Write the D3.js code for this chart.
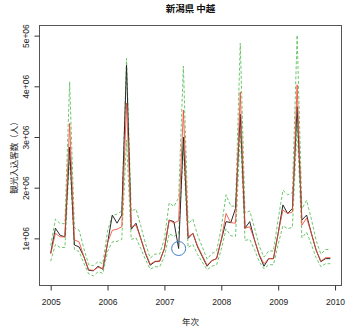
<!DOCTYPE html>
<html>
<head>
<meta charset="utf-8">
<script src="https://cdn.jsdelivr.net/npm/d3@7"></script>
<style>
  body { margin: 0; background: #fff; }
  svg { display: block; font-family: "Liberation Sans", Arial, "Noto Sans CJK JP", sans-serif; }
</style>
</head>
<body>
<svg id="chart" width="346" height="327"></svg>
<script>
// monthly, Jan 2005 .. Dec 2009 (values in persons)
const startYear = 2005;
const actual = [
  0.71, 1.20, 1.06, 1.03, 2.80, 0.87, 0.83, 0.64, 0.37, 0.36, 0.45, 0.39,
  0.90, 1.46, 1.30, 1.46, 4.42, 1.18, 1.30, 1.00, 0.70, 0.47, 0.54, 0.55,
  0.80, 1.36, 1.33, 0.80, 3.00, 1.00, 1.10, 0.83, 0.64, 0.45, 0.56, 0.60,
  0.97, 1.33, 1.31, 1.59, 3.45, 1.20, 1.33, 0.97, 0.67, 0.45, 0.60, 0.60,
  1.10, 1.66, 1.49, 1.59, 3.60, 1.36, 1.46, 1.10, 0.77, 0.54, 0.60, 0.60
];
const fitted = [
  0.69, 1.10, 1.03, 1.03, 3.27, 0.97, 0.93, 0.64, 0.38, 0.37, 0.43, 0.40,
  0.92, 1.16, 1.18, 1.23, 3.67, 1.23, 1.26, 1.00, 0.72, 0.49, 0.55, 0.55,
  0.80, 1.36, 1.30, 1.35, 3.53, 1.03, 1.10, 0.85, 0.66, 0.47, 0.56, 0.60,
  0.97, 1.49, 1.31, 1.30, 3.89, 1.20, 1.23, 0.97, 0.68, 0.50, 0.60, 0.60,
  1.10, 1.56, 1.49, 1.52, 4.03, 1.26, 1.40, 1.10, 0.77, 0.55, 0.62, 0.62
];
const upper = [
  0.86, 1.38, 1.29, 1.29, 4.09, 1.21, 1.16, 0.80, 0.48, 0.46, 0.54, 0.50,
  1.15, 1.45, 1.48, 1.54, 4.55, 1.54, 1.58, 1.25, 0.90, 0.61, 0.69, 0.69,
  1.00, 1.70, 1.63, 1.80, 4.40, 1.29, 1.38, 1.06, 0.83, 0.59, 0.70, 0.75,
  1.21, 1.86, 1.64, 1.63, 4.85, 1.50, 1.54, 1.21, 0.85, 0.63, 0.75, 0.75,
  1.38, 1.95, 1.86, 1.90, 5.01, 1.58, 1.75, 1.38, 0.96, 0.69, 0.78, 0.78
];
const lower = [
  0.55, 0.88, 0.82, 0.82, 2.62, 0.78, 0.74, 0.51, 0.30, 0.26, 0.34, 0.31,
  0.74, 0.93, 0.94, 0.98, 2.94, 0.98, 1.01, 0.80, 0.58, 0.39, 0.44, 0.44,
  0.64, 1.09, 1.04, 1.08, 2.82, 0.82, 0.88, 0.68, 0.53, 0.38, 0.45, 0.48,
  0.78, 1.19, 1.05, 1.04, 3.11, 0.96, 0.98, 0.78, 0.54, 0.40, 0.48, 0.48,
  0.88, 1.25, 1.19, 1.22, 3.22, 1.01, 1.12, 0.88, 0.62, 0.44, 0.50, 0.50
];
const markIndex = 27; // Apr 2007, circled
const xTicks = [2005, 2006, 2007, 2008, 2009, 2010];
const yTicks = [1e6, 2e6, 3e6, 4e6, 5e6];
const yTickLabels = ["1e+06", "2e+06", "3e+06", "4e+06", "5e+06"];

const M = 1e6;
const t = i => startYear + i / 12;

const svg = d3.select("#chart");
const box = {left: 39.5, right: 341.5, top: 25.5, bottom: 285.5};

// R style: data range padded by 4% each side
function pad(ext) { const r = ext[1] - ext[0]; return [ext[0] - 0.04 * r, ext[1] + 0.04 * r]; }
const xScale = d3.scaleLinear().domain(pad([t(0), t(actual.length - 1)])).range([box.left, box.right]);
const allY = actual.concat(fitted, upper, lower).map(v => v * M);
const yScale = d3.scaleLinear().domain(pad(d3.extent(allY))).range([box.bottom, box.top]);

const line = arr => d3.line().x((d, i) => xScale(t(i))).y(d => yScale(d * M))(arr);

const g = svg.append("g");
g.append("path").attr("d", line(upper)).attr("fill", "none")
  .attr("stroke", "#5cbf5c").attr("stroke-width", 0.9).attr("stroke-dasharray", "3,2");
g.append("path").attr("d", line(lower)).attr("fill", "none")
  .attr("stroke", "#5cbf5c").attr("stroke-width", 0.9).attr("stroke-dasharray", "3,2");
g.append("path").attr("d", line(actual)).attr("fill", "none")
  .attr("stroke", "#2a2a2a").attr("stroke-width", 1);
g.append("path").attr("d", line(fitted)).attr("fill", "none")
  .attr("stroke", "#f04a35").attr("stroke-width", 1).attr("stroke-opacity", 0.85);

g.append("circle")
  .attr("cx", xScale(t(markIndex)))
  .attr("cy", yScale(actual[markIndex] * M))
  .attr("r", 7)
  .attr("fill", "none").attr("stroke", "#3f7fc4").attr("stroke-width", 1);

// frame
svg.append("rect")
  .attr("x", box.left).attr("y", box.top)
  .attr("width", box.right - box.left).attr("height", box.bottom - box.top)
  .attr("fill", "none").attr("stroke", "#555").attr("stroke-width", 1);

// x axis
const xAxis = svg.append("g").attr("transform", `translate(0,${box.bottom})`)
  .call(d3.axisBottom(xScale).tickValues(xTicks).tickFormat(d3.format("d")).tickSize(5).tickPadding(8));
xAxis.select(".domain").remove();
xAxis.selectAll("line").attr("stroke", "#333");
xAxis.selectAll("text").attr("font-size", 8.5).attr("fill", "#222");

// y axis, labels parallel to axis
const yAxis = svg.append("g").attr("transform", `translate(${box.left},0)`)
  .call(d3.axisLeft(yScale).tickValues(yTicks).tickFormat((d, i) => yTickLabels[i]).tickSize(5));
yAxis.select(".domain").remove();
yAxis.selectAll("line").attr("stroke", "#333");
yAxis.selectAll("text")
  .attr("font-size", 8.5).attr("fill", "#222")
  .attr("x", null).attr("dy", null)
  .attr("text-anchor", "middle")
  .attr("transform", "translate(-11,0) rotate(-90)");

// titles
svg.append("text").attr("x", (box.left + box.right) / 2).attr("y", 12)
  .attr("text-anchor", "middle").attr("font-size", 9.5).attr("font-weight", "bold")
  .attr("font-family", "'Noto Sans CJK JP', sans-serif").attr("fill", "#111")
  .text("新潟県 中越");
svg.append("text").attr("x", (box.left + box.right) / 2).attr("y", 325)
  .attr("text-anchor", "middle").attr("font-size", 8.5)
  .attr("font-family", "'Noto Sans CJK JP', sans-serif").attr("fill", "#222")
  .text("年次");
svg.append("text")
  .attr("transform", `translate(17,${(box.top + box.bottom) / 2}) rotate(-90)`)
  .attr("text-anchor", "middle").attr("font-size", 8.5)
  .attr("font-family", "'Noto Sans CJK JP', sans-serif").attr("fill", "#222")
  .text("観光入込客数（人）");
</script>
</body>
</html>
